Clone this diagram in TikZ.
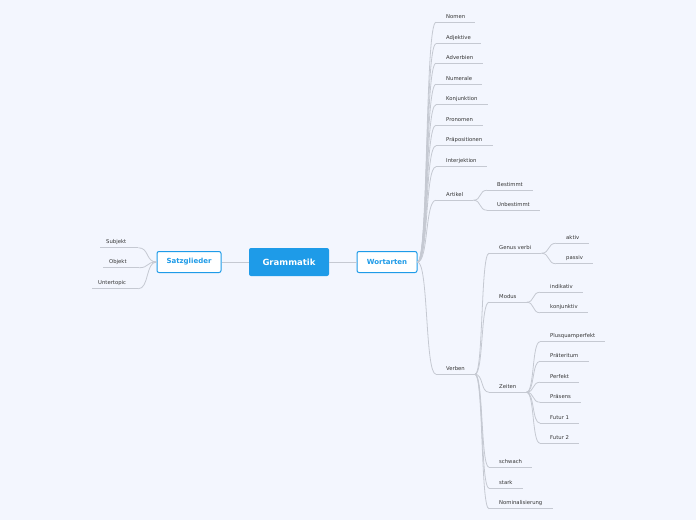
\documentclass[tikz,border=0pt]{standalone}
\usepackage{fontspec}
\usetikzlibrary{calc}
\setmainfont{DejaVu Sans}
\definecolor{bg}{HTML}{F3F6FE}
\definecolor{mmblue}{HTML}{1E9BE8}
\definecolor{lnk}{HTML}{C5C9D2}
\definecolor{txt}{HTML}{333333}
\tikzset{
 topic/.style={anchor=west,font=\fontsize{5.3}{6}\selectfont,text=txt,inner xsep=0pt,inner ysep=3pt},
 uline/.style={draw=lnk,line width=0.8pt},
 conn/.style={draw=lnk,line width=0.8pt},
 mainbox/.style={rounded corners=2pt,draw=mmblue,fill=white,line width=1pt,text=mmblue,font=\fontsize{7}{8}\selectfont\bfseries,minimum height=21pt},
 rootbox/.style={rounded corners=2pt,fill=mmblue,text=white,font=\fontsize{8.5}{10}\selectfont\bfseries,minimum height=28pt,minimum width=80pt}
}
\newcommand\sconn[2]{\draw[conn] let \p1=(#1),\p2=(#2),\n1={(\x2-\x1)*0.6} in (\p1) .. controls ($(\p1)+(\n1,0)$) and ($(\p2)-(\n1,0)$) .. (\p2);}
\newcommand\tp[5]{\node[topic] (#1) at (#2,#3) {#4};
 \coordinate (#1s) at ([xshift=-10pt]#1.south west);
 \coordinate (#1e) at ([xshift=10pt]#1.south east);
 \draw[uline] (#1s) -- (#1e);
 \sconn{#5}{#1s}}
\newcommand\tl[5]{\node[topic] (#1) at (#2,#3) {#4};
 \coordinate (#1s) at ([xshift=-6pt]#1.south west);
 \coordinate (#1e) at ([xshift=12pt]#1.south east);
 \draw[uline] (#1s) -- (#1e);
 \sconn{#5}{#1e}}
\begin{document}
\begin{tikzpicture}[x=1pt,y=-1pt]
\fill[bg] (0,0) rectangle (696,520);
\useasboundingbox (0,0) rectangle (696,520);
\node[rootbox] (g) at (289,262) {Grammatik};
\node[mainbox,minimum width=64pt] (sa) at (189,262) {Satzglieder};
\node[mainbox,minimum width=60pt] (wo) at (387,262) {Wortarten};
\draw[conn] (g.west) -- (sa.east);
\draw[conn] (g.east) -- (wo.west);
\tl{su}{106}{242}{Subjekt}{sa.west}
\tl{ob}{109}{262}{Objekt}{sa.west}
\tl{un}{98}{283}{Untertopic}{sa.west}
\tp{no}{446}{17}{Nomen}{wo.east}
\tp{ad}{446}{38}{Adjektive}{wo.east}
\tp{av}{446}{58}{Adverbien}{wo.east}
\tp{nu}{446}{79}{Numerale}{wo.east}
\tp{ko}{446}{99}{Konjunktion}{wo.east}
\tp{pr}{446}{120}{Pronomen}{wo.east}
\tp{pp}{446}{140}{Präpositionen}{wo.east}
\tp{in}{446}{161}{Interjektion}{wo.east}
\tp{ar}{446}{195}{Artikel}{wo.east}
\tp{ve}{446}{369}{Verben}{wo.east}
\tp{be}{497}{185}{Bestimmt}{are}
\tp{ub}{497}{205}{Unbestimmt}{are}
\tp{ge}{499}{248}{Genus verbi}{vee}
\tp{mo}{499}{297}{Modus}{vee}
\tp{ze}{499}{387}{Zeiten}{vee}
\tp{sc}{499}{462}{schwach}{vee}
\tp{st}{499}{483}{stark}{vee}
\tp{nm}{499}{503}{Nominalisierung}{vee}
\tp{ak}{566}{238}{aktiv}{gee}
\tp{pa}{566}{258}{passiv}{gee}
\tp{id}{550}{287}{indikativ}{moe}
\tp{kj}{550}{307}{konjunktiv}{moe}
\tp{pq}{550}{336}{Plusquamperfekt}{zee}
\tp{pt}{550}{356}{Präteritum}{zee}
\tp{pf}{550}{377}{Perfekt}{zee}
\tp{ps}{550}{397}{Präsens}{zee}
\tp{fa}{550}{418}{Futur 1}{zee}
\tp{fb}{550}{438}{Futur 2}{zee}
\end{tikzpicture}
\end{document}
